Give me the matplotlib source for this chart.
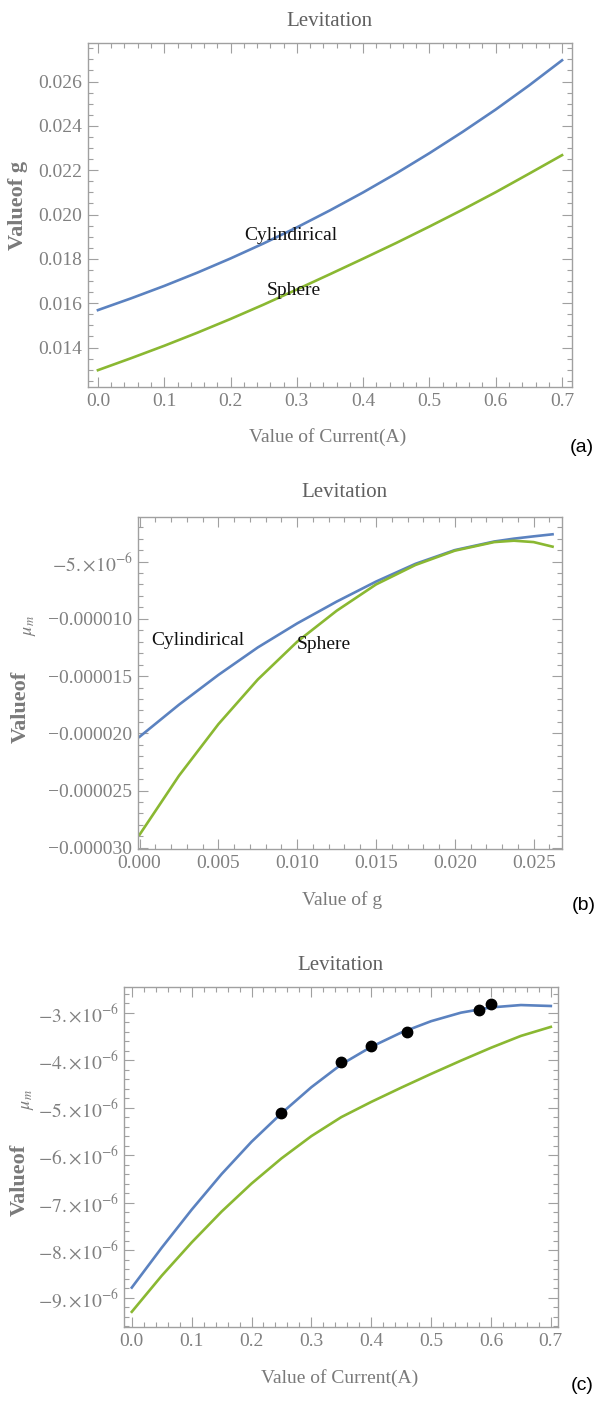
import matplotlib
matplotlib.use("Agg")
import matplotlib.pyplot as plt
from matplotlib.ticker import MultipleLocator, FixedLocator, FixedFormatter, FormatStrFormatter

# ── data ─────────────────────────────────────────────────────────────────────
# (a) g vs current
A_CURRENT = [0.0, 0.05, 0.1, 0.15, 0.2, 0.25, 0.3, 0.35, 0.4, 0.45, 0.5, 0.55, 0.6, 0.65, 0.7]
A_CYL = [0.01569, 0.01622, 0.01678, 0.01738, 0.01802, 0.01870, 0.01942, 0.02019,
         0.02100, 0.02186, 0.02277, 0.02373, 0.02474, 0.02582, 0.02696]
A_SPH = [0.01298, 0.01352, 0.01408, 0.01467, 0.01529, 0.01594, 0.01662, 0.01731,
         0.01801, 0.01872, 0.01946, 0.02022, 0.02101, 0.02184, 0.02268]

# (b) mu_m vs g
B_G = [0.0, 0.0025, 0.005, 0.0075, 0.010, 0.0125, 0.015, 0.0175, 0.020,
       0.0225, 0.02375, 0.025, 0.0262]
B_CYL = [-20.3e-6, -17.5e-6, -14.9e-6, -12.5e-6, -10.4e-6, -8.5e-6, -6.75e-6,
         -5.2e-6, -4.0e-6, -3.25e-6, -3.0e-6, -2.8e-6, -2.62e-6]
B_SPH = [-28.85e-6, -23.7e-6, -19.2e-6, -15.3e-6, -12.0e-6, -9.3e-6, -7.0e-6,
         -5.3e-6, -4.05e-6, -3.3e-6, -3.18e-6, -3.3e-6, -3.7e-6]
B_YTICKS = [-5e-6, -10e-6, -15e-6, -20e-6, -25e-6, -30e-6]
B_YLABELS = [r"$-5.{\times}10^{-6}$", "\u22120.000010", "\u22120.000015",
             "\u22120.000020", "\u22120.000025", "\u22120.000030"]

# (c) mu_m vs current, with measured points
C_CURRENT = [0.0, 0.05, 0.1, 0.15, 0.2, 0.25, 0.3, 0.35, 0.4, 0.45, 0.5, 0.55, 0.6, 0.65, 0.7]
C_CYL = [-8.79e-6, -7.95e-6, -7.15e-6, -6.40e-6, -5.72e-6, -5.12e-6, -4.57e-6, -4.09e-6,
         -3.72e-6, -3.42e-6, -3.18e-6, -3.00e-6, -2.89e-6, -2.84e-6, -2.86e-6]
C_SPH = [-9.30e-6, -8.54e-6, -7.84e-6, -7.19e-6, -6.60e-6, -6.07e-6, -5.60e-6, -5.20e-6,
         -4.88e-6, -4.58e-6, -4.29e-6, -4.01e-6, -3.74e-6, -3.49e-6, -3.30e-6]
C_PTS_X = [0.25, 0.35, 0.40, 0.46, 0.58, 0.60]
C_PTS_Y = [-5.12e-6, -4.03e-6, -3.71e-6, -3.40e-6, -2.94e-6, -2.82e-6]
C_YTICKS = [-3e-6, -4e-6, -5e-6, -6e-6, -7e-6, -8e-6, -9e-6]
C_YLABELS = [r"$-%d.{\times}10^{-6}$" % n for n in (3, 4, 5, 6, 7, 8, 9)]

# ── style ────────────────────────────────────────────────────────────────────
W, H = 606, 1404
BLUE, GREEN = "#5b82c0", "#8ab832"
FRAME_C, TICK_C, LABEL_C = "#a0a0a0", "#808080", "#7a7a7a"

plt.rcParams["font.family"] = ["Liberation Serif", "DejaVu Serif"]
plt.rcParams["mathtext.fontset"] = "stix"
plt.rcParams["lines.solid_joinstyle"] = "round"


def P(x, y):
    return x / W, 1 - y / H


def box(l, t, r, b):
    return [l / W, 1 - b / H, (r - l) / W, (b - t) / H]


def frame(ax):
    for s in ax.spines.values():
        s.set_color(FRAME_C)
        s.set_linewidth(1.0)
    ax.tick_params(which="both", direction="in", top=True, right=True,
                   color=FRAME_C, labelcolor=TICK_C, labelsize=14, width=0.8, pad=4)
    ax.tick_params(which="major", length=7)
    ax.tick_params(which="minor", length=3.5)


def txt(fig, x, y, s, **kw):
    fig.text(*P(x, y), s, ha="center", va="center", **kw)


fig = plt.figure(figsize=(W / 100, H / 100), dpi=100)

# ── (a) ──────────────────────────────────────────────────────────────────────
ax = fig.add_axes(box(88, 43, 572, 387))
ax.plot(A_CURRENT, A_CYL, color=BLUE, lw=1.9)
ax.plot(A_CURRENT, A_SPH, color=GREEN, lw=1.9)
ax.set_xlim(-0.015, 0.715)
ax.set_ylim(0.01222, 0.02774)
ax.xaxis.set_major_locator(MultipleLocator(0.1))
ax.xaxis.set_minor_locator(MultipleLocator(0.02))
ax.yaxis.set_major_locator(MultipleLocator(0.002))
ax.yaxis.set_minor_locator(MultipleLocator(0.0005))
ax.xaxis.set_major_formatter(FormatStrFormatter("%.1f"))
ax.yaxis.set_major_formatter(FormatStrFormatter("%.3f"))
frame(ax)
ax.text(0.291, 0.01906, "Cylindirical", fontsize=14, ha="center", va="center", color="#111")
ax.text(0.296, 0.01657, "Sphere", fontsize=14, ha="center", va="center", color="#111")
txt(fig, 329, 22, "Levitation", fontsize=15, color="#606060")
txt(fig, 328, 437, "Value of Current(A)", fontsize=14, color=LABEL_C)
txt(fig, 18, 205, "Valueof g", fontsize=16, color=LABEL_C, rotation=90, weight="bold")
txt(fig, 582, 447, "(a)", fontsize=14, family="Liberation Sans", color="black")

# ── (b) ──────────────────────────────────────────────────────────────────────
ax = fig.add_axes(box(138, 517, 562, 849))
ax.plot(B_G, B_CYL, color=BLUE, lw=1.9)
ax.plot(B_G, B_SPH, color=GREEN, lw=1.9)
ax.set_xlim(-0.0001, 0.0268)
ax.set_ylim(-30.1e-6, -1.11e-6)
ax.xaxis.set_major_locator(MultipleLocator(0.005))
ax.xaxis.set_minor_locator(MultipleLocator(0.001))
ax.xaxis.set_major_formatter(FormatStrFormatter("%.3f"))
ax.yaxis.set_major_locator(FixedLocator(B_YTICKS))
ax.yaxis.set_major_formatter(FixedFormatter(B_YLABELS))
ax.yaxis.set_minor_locator(MultipleLocator(1e-6))
frame(ax)
ax.text(0.0037, -11.9e-6, "Cylindirical", fontsize=14, ha="center", va="center", color="#111")
ax.text(0.0117, -12.2e-6, "Sphere", fontsize=14, ha="center", va="center", color="#111")
txt(fig, 344, 493, "Levitation", fontsize=15, color="#606060")
txt(fig, 342, 900, "Value of g", fontsize=14, color=LABEL_C)
txt(fig, 21, 707, "Valueof", fontsize=16, color=LABEL_C, rotation=90, weight="bold")
txt(fig, 29, 626, r"$\mu_m$", fontsize=13, color=LABEL_C, rotation=90)
txt(fig, 584, 905, "(b)", fontsize=14, family="Liberation Sans", color="black")

# ── (c) ──────────────────────────────────────────────────────────────────────
ax = fig.add_axes(box(124, 987, 558, 1327))
ax.plot(C_CURRENT, C_CYL, color=BLUE, lw=1.9)
ax.plot(C_CURRENT, C_SPH, color=GREEN, lw=1.9)
ax.plot(C_PTS_X, C_PTS_Y, "o", color="black", ms=7.5, zorder=5)
ax.set_xlim(-0.013, 0.712)
ax.set_ylim(-9.62e-6, -2.46e-6)
ax.xaxis.set_major_locator(MultipleLocator(0.1))
ax.xaxis.set_minor_locator(MultipleLocator(0.02))
ax.xaxis.set_major_formatter(FormatStrFormatter("%.1f"))
ax.yaxis.set_major_locator(FixedLocator(C_YTICKS))
ax.yaxis.set_major_formatter(FixedFormatter(C_YLABELS))
ax.yaxis.set_minor_locator(MultipleLocator(2e-7))
frame(ax)
txt(fig, 340, 966, "Levitation", fontsize=15, color="#606060")
txt(fig, 340, 1378, "Value of Current(A)", fontsize=14, color=LABEL_C)
txt(fig, 20, 1180, "Valueof", fontsize=16, color=LABEL_C, rotation=90, weight="bold")
txt(fig, 28, 1100, r"$\mu_m$", fontsize=13, color=LABEL_C, rotation=90)
txt(fig, 582, 1385, "(c)", fontsize=14, family="Liberation Sans", color="black")

fig.savefig("out.png", dpi=100)
